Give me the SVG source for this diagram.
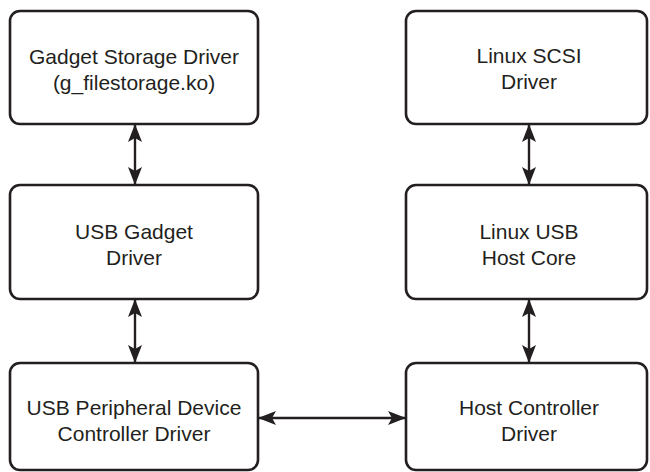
<svg xmlns="http://www.w3.org/2000/svg" width="650" height="472" viewBox="0 0 650 472">
<style>
.box{fill:#fff;stroke:#231f20;stroke-width:2.6}
.t{font-family:"Liberation Sans",Arial,sans-serif;font-size:21px;fill:#231f20;text-anchor:middle}
.c{stroke:#231f20;stroke-width:2.4;fill:none;marker-start:url(#a);marker-end:url(#a)}
</style>
<defs>
<marker id="a" viewBox="0 0 18 14" refX="17" refY="7" markerWidth="18" markerHeight="14" markerUnits="userSpaceOnUse" orient="auto-start-reverse">
<path d="M0,0 L18,7 L0,14 L4,7 Z" fill="#231f20"/>
</marker>
</defs>
<rect width="650" height="472" fill="#fff"/>
<g id="gadget-storage"><rect class="box" x="10" y="11" width="248" height="113" rx="10"/><text class="t" x="134" y="64">Gadget Storage Driver</text><text class="t" x="134" y="90">(g_filestorage.ko)</text></g>
<g id="linux-scsi"><rect class="box" x="406" y="11" width="241" height="113" rx="10"/><text class="t" x="529" y="63">Linux SCSI</text><text class="t" x="529" y="89">Driver</text></g>
<g id="usb-gadget"><rect class="box" x="10" y="185" width="248" height="114" rx="10"/><text class="t" x="134" y="239">USB Gadget</text><text class="t" x="134" y="265">Driver</text></g>
<g id="usb-host-core"><rect class="box" x="406" y="185" width="241" height="114" rx="10"/><text class="t" x="529" y="239">Linux USB</text><text class="t" x="529" y="265">Host Core</text></g>
<g id="udc"><rect class="box" x="10" y="363" width="248" height="107" rx="10"/><text class="t" x="134" y="415">USB Peripheral Device</text><text class="t" x="134" y="441">Controller Driver</text></g>
<g id="hcd"><rect class="box" x="406" y="363" width="241" height="107" rx="10"/><text class="t" x="529" y="415">Host Controller</text><text class="t" x="529" y="441">Driver</text></g>
<g id="connectors">
<line class="c" x1="135" y1="125" x2="135" y2="184"/>
<line class="c" x1="135" y1="300" x2="135" y2="362"/>
<line class="c" x1="529" y1="125" x2="529" y2="184"/>
<line class="c" x1="529" y1="300" x2="529" y2="362"/>
<line class="c" x1="259" y1="418" x2="405" y2="418"/>
</g>
</svg>
